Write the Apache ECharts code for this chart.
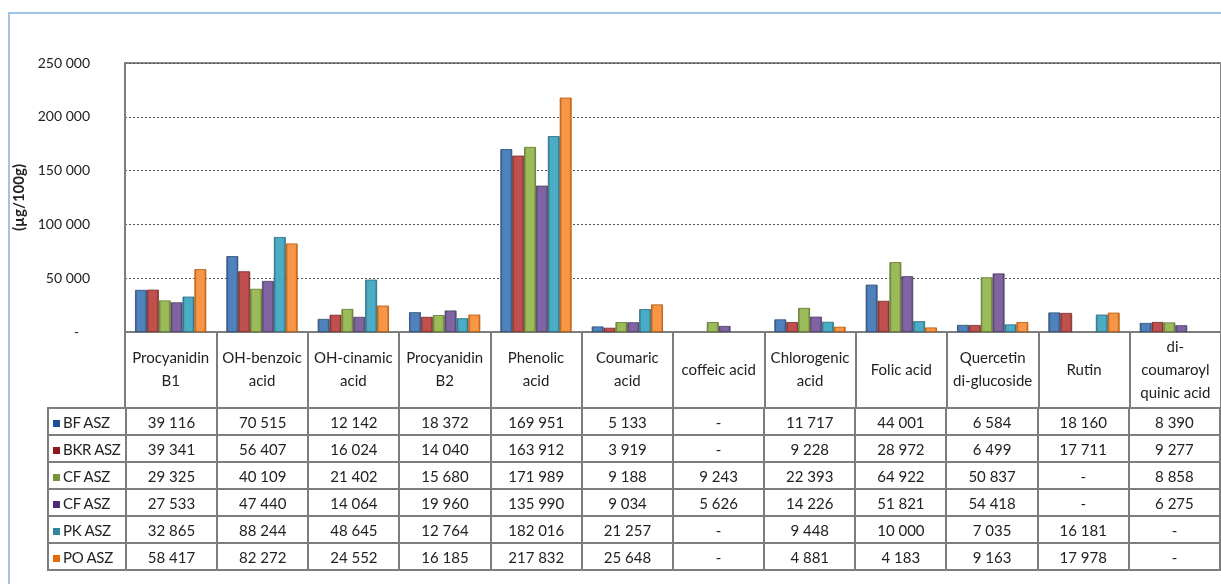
<!DOCTYPE html>
<html>
<head>
<meta charset="utf-8">
<script src="https://cdn.jsdelivr.net/npm/echarts@6/dist/echarts.min.js"></script>
<style>
  html, body { margin: 0; padding: 0; background: #fff; overflow: hidden; }
  #frame { position: absolute; left: 8px; top: 12px; width: 1300px; height: 700px;
           border-left: 2px solid #9ec3e8; border-top: 2px solid #9ec3e8; }
  #main { position: absolute; left: 0; top: 0; width: 1221px; height: 584px; }
  #tbl { position: absolute; left: 47px; top: 407px; border-collapse: collapse;
         table-layout: fixed; font-family: Lato, "Open Sans", sans-serif; font-size: 15px; color: #222; }
  #tbl td { border: 2px solid #7d7d7d; height: 25px; padding: 0; text-align: center; white-space: nowrap; }
  #tbl td.lg { text-align: left; padding-left: 4px; letter-spacing: -0.3px; }
  #tbl .sq { display: inline-block; width: 7px; height: 7px; margin-right: 3px; vertical-align: 1px; }
</style>
</head>
<body>
<div id="frame"></div>
<div id="main"></div>
<table id="tbl"></table>
<script>
// 类别（表头文字）
var categories = ['Procyanidin\nB1', 'OH-benzoic\nacid', 'OH-cinamic\nacid', 'Procyanidin\nB2',
  'Phenolic\nacid', 'Coumaric\nacid', 'coffeic acid', 'Chlorogenic\nacid', 'Folic acid',
  'Quercetin\ndi-glucoside', 'Rutin', 'di-\ncoumaroyl\nquinic acid'];

var seriesNames = ['BF ASZ', 'BKR ASZ', 'CF ASZ', 'CF ASZ', 'PK ASZ', 'PO ASZ'];

// 各系列数据，null 表示 "-"
var bfASZ  = [39116, 70515, 12142, 18372, 169951, 5133, null, 11717, 44001, 6584, 18160, 8390];
var bkrASZ = [39341, 56407, 16024, 14040, 163912, 3919, null, 9228, 28972, 6499, 17711, 9277];
var cfASZ  = [29325, 40109, 21402, 15680, 171989, 9188, 9243, 22393, 64922, 50837, null, 8858];
var cf2ASZ = [27533, 47440, 14064, 19960, 135990, 9034, 5626, 14226, 51821, 54418, null, 6275];
var pkASZ  = [32865, 88244, 48645, 12764, 182016, 21257, null, 9448, 10000, 7035, 16181, null];
var poASZ  = [58417, 82272, 24552, 16185, 217832, 25648, null, 4881, 4183, 9163, 17978, null];

var yTicks = [0, 50000, 100000, 150000, 200000, 250000];

var allData = [bfASZ, bkrASZ, cfASZ, cf2ASZ, pkASZ, poASZ];
var colors   = ['#4f81bd', '#c0504d', '#9bbb59', '#8064a2', '#4bacc6', '#f79646'];
var darks    = ['#2c4d75', '#772c2a', '#5f7530', '#4d3b62', '#276a7c', '#b65708'];
var squares  = ['#1f4e99', '#8b1a1a', '#77933c', '#4b2c7a', '#31859c', '#e46c0a'];

function fmt(v) {
  if (v == null) return '-';
  return String(v).replace(/\B(?=(\d{3})+(?!\d))/g, ' ');
}

var myChart = echarts.init(document.getElementById('main'));

var series = allData.map(function (d, i) {
  return {
    name: seriesNames[i],
    type: 'bar',
    data: d,
    barGap: '0%',
    barCategoryGap: '22%',
    itemStyle: {
      borderColor: darks[i],
      borderWidth: 0.8,
      color: new echarts.graphic.LinearGradient(0, 0, 1, 0, [
        { offset: 0, color: darks[i] },
        { offset: 0.2, color: colors[i] },
        { offset: 0.8, color: colors[i] },
        { offset: 1, color: darks[i] }
      ])
    }
  };
});

var option = {
  animation: false,
  textStyle: { fontFamily: 'Lato, "Open Sans", sans-serif' },
  grid: {
    left: 125, top: 63, width: 1100, height: 269,
    show: true, borderColor: '#8a8a8a', borderWidth: 2
  },
  xAxis: {
    type: 'category',
    data: categories,
    axisLine: { lineStyle: { color: '#7d7d7d', width: 2 } },
    axisTick: { show: true, interval: 0, length: 76, lineStyle: { color: '#7d7d7d', width: 2 } },
    axisLabel: {
      interval: 0, color: '#222', fontSize: 15, lineHeight: 23,
      verticalAlign: 'middle', margin: 38
    }
  },
  yAxis: {
    type: 'value',
    min: yTicks[0], max: yTicks[yTicks.length - 1], interval: 50000,
    name: '(µg/100g)',
    nameLocation: 'middle',
    nameRotate: 90,
    nameGap: 98,
    nameTextStyle: { fontWeight: 'bold', fontSize: 15, color: '#222' },
    axisLine: { show: true, lineStyle: { color: '#7d7d7d', width: 2 } },
    axisTick: { show: false },
    axisLabel: {
      color: '#222', fontSize: 14, margin: 35,
      formatter: function (v) { return v === 0 ? '-   ' : fmt(v); }
    },
    splitLine: { lineStyle: { color: '#555', type: [2, 2], width: 1 } }
  },
  series: series
};
myChart.setOption(option);

// 数据表
var tbl = document.getElementById('tbl');
var cg = '<colgroup><col style="width:78px">';
for (var c = 0; c < categories.length; c++) cg += '<col style="width:91.67px">';
cg += '</colgroup>';
var html = cg;
for (var r = 0; r < allData.length; r++) {
  html += '<tr><td class="lg"><span class="sq" style="background:' + squares[r] + '"></span>' + seriesNames[r] + '</td>';
  for (var k = 0; k < categories.length; k++) html += '<td>' + fmt(allData[r][k]) + '</td>';
  html += '</tr>';
}
tbl.innerHTML = html;
</script>
</body>
</html>
